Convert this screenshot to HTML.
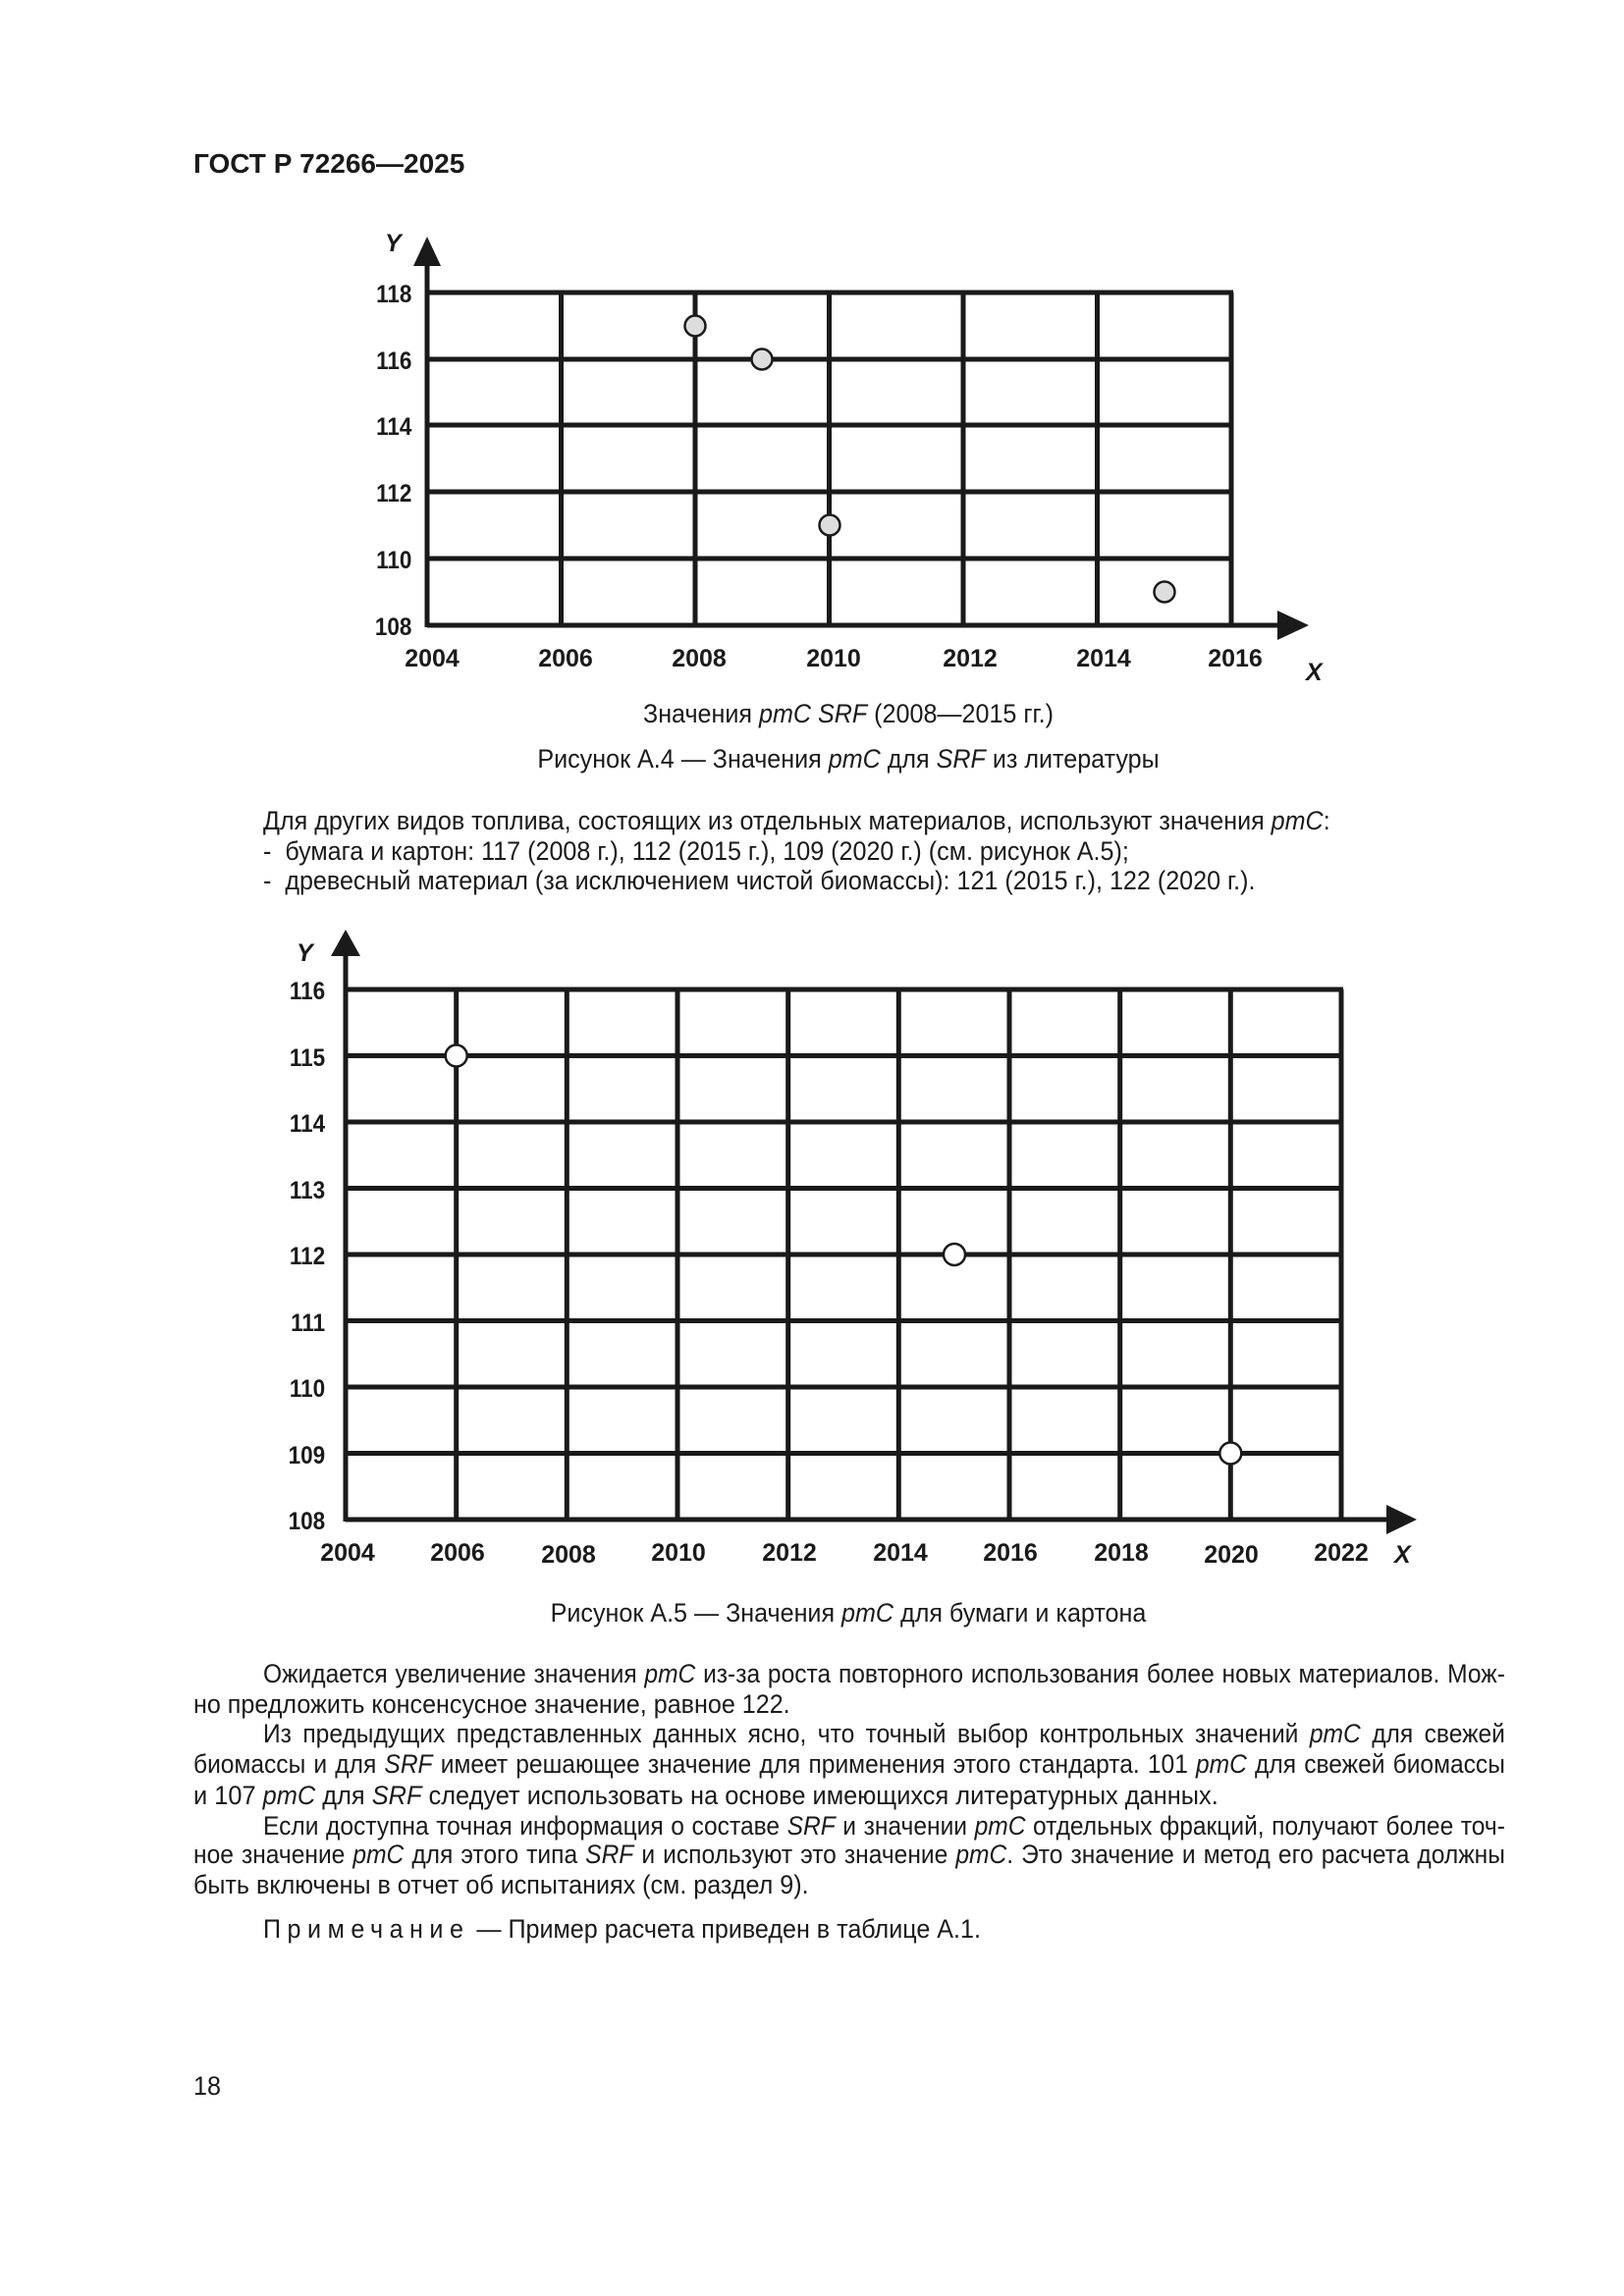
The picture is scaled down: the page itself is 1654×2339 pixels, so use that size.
<!DOCTYPE html>
<html><head><meta charset="utf-8"><style>
body{margin:0;background:#fff}
#p{position:relative;width:1654px;height:2339px;overflow:hidden;background:#fff;color:#1a1a1a;font-family:"Liberation Sans",sans-serif}
.l{position:absolute;white-space:nowrap;font-size:27px;line-height:30px;transform:scaleX(.93);transform-origin:left center}
.j{text-align:justify;text-align-last:justify;transform:scaleX(.91)}
.c{left:37px;width:1654px;text-align:center;transform-origin:center center}
i{font-style:italic}
svg{position:absolute;left:0;top:0}
svg text{font-family:"Liberation Sans",sans-serif;font-weight:bold;font-size:25px;fill:#1a1a1a}
.yl{font-size:27px}
</style></head><body><div id="p">
<div class="l" style="left:197px;top:152px;font-weight:bold;font-size:28px;transform:none">ГОСТ Р 72266—2025</div>

<svg width="1654" height="2339" viewBox="0 0 1654 2339">
<g stroke="#1a1a1a" stroke-width="5" fill="none">
<line x1="435" y1="262" x2="435" y2="639"/>
<line x1="435" y1="637" x2="1305" y2="637"/>
<path d="M571.5 298V637M708 298V637M844.5 298V637M981 298V637M1117.5 298V637M1254 298V637"/>
<path d="M433 298H1256M433 366H1254M433 433H1254M433 501H1254M433 569H1254"/>
<line x1="352" y1="970" x2="352" y2="1550"/>
<line x1="352" y1="1548" x2="1415" y2="1548"/>
<path d="M464.7 1008V1548M577.3 1008V1548M690 1008V1548M802.7 1008V1548M915.3 1008V1548M1028 1008V1548M1140.7 1008V1548M1253.3 1008V1548M1366 1008V1548"/>
<path d="M350 1008H1368M350 1075.5H1366M350 1143H1366M350 1210.5H1366M350 1278H1366M350 1345.5H1366M350 1413H1366M350 1480.5H1366"/>
</g>
<g fill="#1a1a1a">
<polygon points="435,241 421,271 449,271"/>
<polygon points="1333,637 1301,622 1301,652"/>
<polygon points="352,947 337,974 367,974"/>
<polygon points="1443,1548 1412,1533 1412,1563"/>
</g>
<g stroke="#1a1a1a" stroke-width="2.5">
<circle cx="708" cy="332" r="10.5" fill="#ddd"/>
<circle cx="776" cy="366" r="10.5" fill="#ddd"/>
<circle cx="845" cy="535" r="10.5" fill="#ddd"/>
<circle cx="1186" cy="603" r="10.5" fill="#ddd"/>
<circle cx="464.7" cy="1075.5" r="11" fill="#fff"/>
<circle cx="972" cy="1278" r="11" fill="#fff"/>
<circle cx="1253.3" cy="1480.5" r="11" fill="#fff"/>
</g>
<g text-anchor="end" transform="scale(0.9,1)" class="yl">
<text x="466" y="308">118</text><text x="466" y="376">116</text><text x="466" y="443">114</text>
<text x="466" y="511">112</text><text x="466" y="579">110</text><text x="466" y="647">108</text>
<text x="368" y="1018">116</text><text x="368" y="1086">115</text><text x="368" y="1153">114</text>
<text x="368" y="1221">113</text><text x="368" y="1288">112</text><text x="368" y="1356">111</text>
<text x="368" y="1423">110</text><text x="368" y="1491">109</text><text x="368" y="1558">108</text>
</g>
<g text-anchor="middle">
<text x="440" y="679">2004</text>
<text x="576" y="679">2006</text><text x="712" y="679">2008</text><text x="849" y="679">2010</text>
<text x="988" y="679">2012</text><text x="1124" y="679">2014</text><text x="1258" y="679">2016</text>
<text x="354" y="1590">2004</text><text x="466" y="1590">2006</text><text x="579" y="1592">2008</text>
<text x="691" y="1590">2010</text><text x="804" y="1590">2012</text><text x="917" y="1590">2014</text>
<text x="1029" y="1590">2016</text><text x="1142" y="1590">2018</text><text x="1254" y="1592">2020</text>
<text x="1366" y="1590">2022</text>
</g>
<g font-style="italic">
<text x="392" y="256">Y</text><text x="1330" y="693">X</text>
<text x="302" y="979">Y</text><text x="1420" y="1592">X</text>
</g>
</svg>

<div class="l c" style="top:712px">Значения <i>pmC SRF</i> (2008—2015 гг.)</div>
<div class="l c" style="top:758px">Рисунок А.4 — Значения <i>pmC</i> для <i>SRF</i> из литературы</div>
<div class="l" style="left:268px;top:821px">Для других видов топлива, состоящих из отдельных материалов, используют значения <i>pmC</i>:</div>
<div class="l" style="left:268px;top:852px">-&nbsp; бумага и картон: 117 (2008 г.), 112 (2015 г.), 109 (2020 г.) (см. рисунок А.5);</div>
<div class="l" style="left:268px;top:882px">-&nbsp; древесный материал (за исключением чистой биомассы): 121 (2015 г.), 122 (2020 г.).</div>

<div class="l c" style="top:1628px">Рисунок А.5 — Значения <i>pmC</i> для бумаги и картона</div>

<div class="l j" style="left:268px;top:1690px;width:1390px">Ожидается увеличение значения <i>pmC</i> из-за роста повторного использования более новых материалов. Мож-</div>
<div class="l" style="left:197px;top:1721px">но предложить консенсусное значение, равное 122.</div>
<div class="l j" style="left:268px;top:1751px;width:1390px">Из предыдущих представленных данных ясно, что точный выбор контрольных значений <i>pmC</i> для свежей</div>
<div class="l j" style="left:197px;top:1782px;width:1468px">биомассы и для <i>SRF</i> имеет решающее значение для применения этого стандарта. 101 <i>pmC</i> для свежей биомассы</div>
<div class="l" style="left:197px;top:1814px;transform:scaleX(.94)">и 107 <i>pmC</i> для <i>SRF</i> следует использовать на основе имеющихся литературных данных.</div>
<div class="l j" style="left:268px;top:1845px;width:1390px">Если доступна точная информация о составе <i>SRF</i> и значении <i>pmC</i> отдельных фракций, получают более точ-</div>
<div class="l j" style="left:197px;top:1874px;width:1468px">ное значение <i>pmC</i> для этого типа <i>SRF</i> и используют это значение <i>pmC</i>. Это значение и метод его расчета должны</div>
<div class="l" style="left:197px;top:1905px">быть включены в отчет об испытаниях (см. раздел 9).</div>
<div class="l" style="left:268px;top:1950px"><span style="letter-spacing:7px">Примечание</span> — Пример расчета приведен в таблице А.1.</div>
<div class="l" style="left:197px;top:2110px">18</div>
</div></body></html>
